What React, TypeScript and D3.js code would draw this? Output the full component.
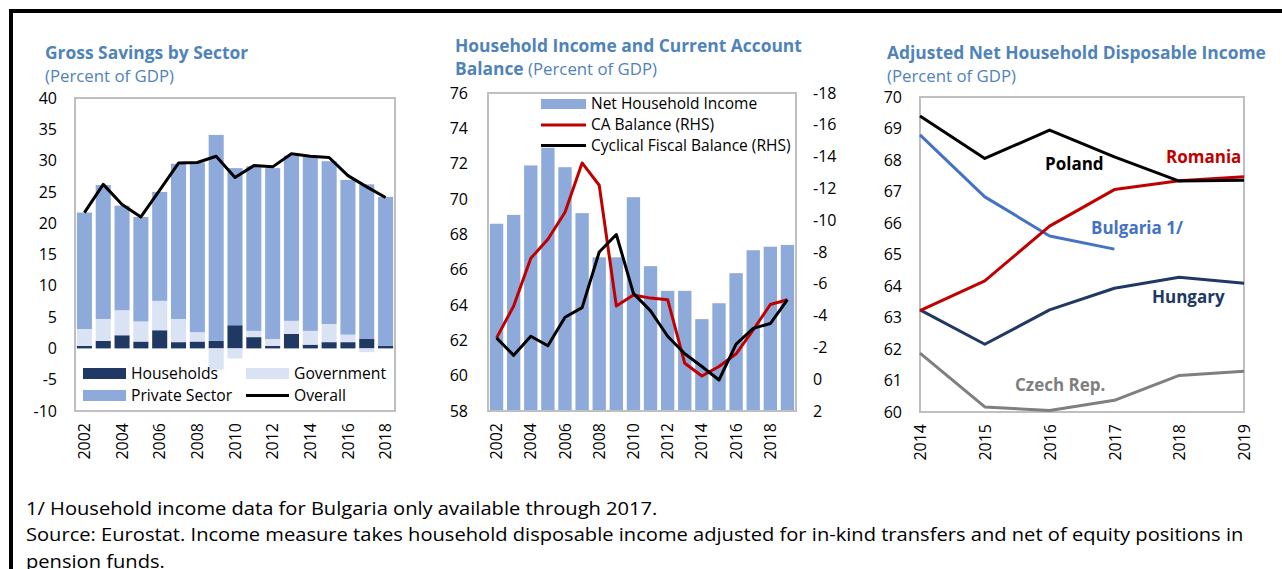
import * as d3 from "d3";
import { useEffect, useRef } from "react";

const FONT = "'Open Sans', sans-serif";
const TITLE_BLUE = "#4f83b9";
const FRAME_GREY = "#bfbfbf";

// Panel 1: Gross Savings by Sector (percent of GDP)
const savingsYears = [2002, 2003, 2004, 2005, 2006, 2007, 2008, 2009, 2010, 2011, 2012, 2013, 2014, 2015, 2016, 2017, 2018];
const households = [0.4, 1.2, 2.1, 1.1, 2.9, 1.0, 1.1, 1.2, 3.7, 1.8, 0.4, 2.3, 0.6, 1.0, 1.0, 1.5, 0.4];
const government = [2.7, 3.5, 4.0, 3.2, 4.7, 3.7, 1.5, -3.4, -1.6, 1.0, 1.1, 2.1, 2.2, 2.9, 1.2, -0.6, 0];
const privateSector = [18.6, 21.4, 16.7, 16.7, 17.4, 24.8, 27.1, 32.9, 25.1, 26.3, 27.3, 26.4, 27.8, 26.0, 24.7, 24.7, 23.8];
const overall = [21.7, 26.2, 23.0, 21.0, 25.3, 29.6, 29.7, 30.7, 27.3, 29.2, 29.0, 31.1, 30.7, 30.5, 27.6, 25.8, 24.1];
const savingsTicks = [-10, -5, 0, 5, 10, 15, 20, 25, 30, 35, 40];
const savingsLabelYears = [2002, 2004, 2006, 2008, 2010, 2012, 2014, 2016, 2018];

// Panel 2: Household income and current account balance
const incomeYears = [2002, 2003, 2004, 2005, 2006, 2007, 2008, 2009, 2010, 2011, 2012, 2013, 2014, 2015, 2016, 2017, 2018, 2019];
const netHouseholdIncome = [68.6, 69.1, 71.9, 72.9, 71.8, 69.2, 66.7, 66.7, 70.1, 66.2, 64.8, 64.8, 63.2, 64.1, 65.8, 67.1, 67.3, 67.4];
const caBalance = [-2.6, -4.6, -7.6, -8.8, -10.5, -13.6, -12.2, -4.6, -5.3, -5.1, -5.0, -1.0, -0.2, -0.8, -1.6, -3.1, -4.7, -5.0];
const cyclicalFiscal = [-2.6, -1.5, -2.7, -2.1, -3.9, -4.5, -8.0, -9.1, -5.4, -4.3, -2.7, -1.6, -0.8, 0.05, -2.2, -3.2, -3.5, -5.0];
const incomeLeftTicks = [58, 60, 62, 64, 66, 68, 70, 72, 74, 76];
const incomeRightTicks = [2, 0, -2, -4, -6, -8, -10, -12, -14, -16, -18];
const incomeLabelYears = [2002, 2004, 2006, 2008, 2010, 2012, 2014, 2016, 2018];

// Panel 3: Adjusted net household disposable income
const countryYears = [2014, 2015, 2016, 2017, 2018, 2019];
const poland = [69.4, 68.05, 68.95, 68.1, 67.33, 67.36];
const romania = [63.22, 64.16, 65.9, 67.06, 67.34, 67.47];
const bulgaria = [68.8, 66.83, 65.59, 65.17];
const hungary = [63.24, 62.15, 63.24, 63.93, 64.28, 64.09];
const czech = [61.87, 60.16, 60.05, 60.37, 61.16, 61.29];
const countryTicks = [60, 61, 62, 63, 64, 65, 66, 67, 68, 69, 70];

type Sel = d3.Selection<SVGGElement, unknown, null, undefined>;

const plainNum = (d: d3.NumberValue) => String(d);

function styleAxis(g: Sel) {
	g.select(".domain").remove();
	g.selectAll("line").remove();
	g.selectAll("text")
		.attr("font-family", FONT)
		.attr("font-size", 16)
		.attr("fill", "#000");
	g.attr("font-family", null).attr("font-size", null);
}

function rotateLabels(g: Sel) {
	g.selectAll("text")
		.attr("transform", "rotate(-90)")
		.attr("text-anchor", "end")
		.attr("x", -12)
		.attr("y", 0)
		.attr("dy", "0.35em");
}

export default function App() {
	const svgRef = useRef<SVGSVGElement>(null);

	useEffect(() => {
		if (!svgRef.current) return;
		const svg = d3.select(svgRef.current);
		svg.selectAll("*").remove();

		// outer frame
		svg.append("path")
			.attr("d", "M11,569V11H1282")
			.attr("fill", "none")
			.attr("stroke", "#000")
			.attr("stroke-width", 4);

		const title = (x: number, y: number, bold: string, normal: string) => {
			const t = svg.append("text")
				.attr("x", x)
				.attr("y", y)
				.attr("font-family", FONT)
				.attr("fill", TITLE_BLUE);
			if (bold) t.append("tspan").attr("font-weight", 700).attr("font-size", 17.4).text(bold);
			if (normal) t.append("tspan").attr("font-weight", 400).attr("font-size", 16.8).text(normal);
		};

		// ---------- Panel 1 ----------
		title(45, 59, "Gross Savings by Sector", "");
		title(45, 82, "", "(Percent of GDP)");

		const p1 = { left: 75, right: 395, top: 98, bottom: 411 };
		const x1 = d3.scaleBand()
			.domain(savingsYears.map(String))
			.range([p1.left, p1.right])
			.paddingInner(0.2)
			.paddingOuter(0.1);
		const y1 = d3.scaleLinear().domain([-10, 40]).range([p1.bottom, p1.top]);

		const rows = savingsYears.map((yr, i) => ({
			year: String(yr),
			households: households[i],
			government: government[i],
			private: privateSector[i],
		}));
		const stacked = d3.stack<any>()
			.keys(["households", "government", "private"])
			.offset(d3.stackOffsetDiverging)(rows);
		const sectorColor: Record<string, string> = {
			households: "#203864",
			government: "#dae3f3",
			private: "#8eaadb",
		};

		const g1 = svg.append("g");
		stacked.forEach((series) => {
			g1.append("g")
				.attr("fill", sectorColor[series.key])
				.selectAll("rect")
				.data(series)
				.join("rect")
				.attr("x", (d) => x1(d.data.year) ?? 0)
				.attr("width", x1.bandwidth())
				.attr("y", (d) => y1(Math.max(d[0], d[1])))
				.attr("height", (d) => Math.abs(y1(d[0]) - y1(d[1])));
		});

		const line1 = d3.line<number>()
			.x((_, i) => (x1(String(savingsYears[i])) ?? 0) + x1.bandwidth() / 2)
			.y((d) => y1(d));
		g1.append("path")
			.attr("d", line1(overall))
			.attr("fill", "none")
			.attr("stroke", "#000")
			.attr("stroke-width", 3)
			.attr("stroke-linejoin", "round");

		g1.append("rect")
			.attr("x", p1.left)
			.attr("y", p1.top)
			.attr("width", p1.right - p1.left)
			.attr("height", p1.bottom - p1.top)
			.attr("fill", "none")
			.attr("stroke", FRAME_GREY)
			.attr("stroke-width", 2);

		svg.append("g")
			.attr("transform", `translate(${p1.left},0)`)
			.call(d3.axisLeft(y1).tickValues(savingsTicks).tickFormat(plainNum).tickSize(0).tickPadding(18))
			.call(styleAxis);
		svg.append("g")
			.attr("transform", `translate(0,${p1.bottom})`)
			.call(d3.axisBottom(x1).tickValues(savingsLabelYears.map(String)).tickSize(0))
			.call(styleAxis)
			.call(rotateLabels);

		// legend 1
		const leg1 = svg.append("g")
			.attr("font-family", FONT)
			.attr("font-size", 15.7);
		const leg1Items = [
			{ label: "Households", kind: "households", x: 83, y: 373.5 },
			{ label: "Government", kind: "government", x: 246, y: 373.5 },
			{ label: "Private Sector", kind: "private", x: 83, y: 395.5 },
			{ label: "Overall", kind: "line", x: 246, y: 395.5 },
		];
		leg1Items.forEach((it) => {
			if (it.kind === "line") {
				leg1.append("line")
					.attr("x1", it.x).attr("x2", it.x + 43)
					.attr("y1", it.y).attr("y2", it.y)
					.attr("stroke", "#000").attr("stroke-width", 3);
			} else {
				leg1.append("rect")
					.attr("x", it.x).attr("y", it.y - 5.5)
					.attr("width", 43).attr("height", 11)
					.attr("fill", sectorColor[it.kind]);
			}
			leg1.append("text")
				.attr("x", it.x + 48).attr("y", it.y)
				.attr("dy", "0.35em")
				.text(it.label);
		});

		// ---------- Panel 2 ----------
		title(455, 52, "Household Income and Current Account", "");
		title(455, 75, "Balance", " (Percent of GDP)");

		const p2 = { left: 488, right: 796, top: 93, bottom: 411 };
		const x2 = d3.scaleBand()
			.domain(incomeYears.map(String))
			.range([p2.left, p2.right])
			.paddingInner(0.22)
			.paddingOuter(0.11);
		const y2L = d3.scaleLinear().domain([58, 76]).range([p2.bottom, p2.top]);
		const y2R = d3.scaleLinear().domain([2, -18]).range([p2.bottom, p2.top]);
		const cx2 = (i: number) => (x2(String(incomeYears[i])) ?? 0) + x2.bandwidth() / 2;

		const g2 = svg.append("g");
		g2.append("g")
			.attr("fill", "#8eaadb")
			.selectAll("rect")
			.data(netHouseholdIncome)
			.join("rect")
			.attr("x", (_, i) => x2(String(incomeYears[i])) ?? 0)
			.attr("width", x2.bandwidth())
			.attr("y", (d) => y2L(d))
			.attr("height", (d) => y2L(58) - y2L(d));

		const line2 = d3.line<number>().x((_, i) => cx2(i)).y((d) => y2R(d));
		g2.append("path")
			.attr("d", line2(caBalance))
			.attr("fill", "none")
			.attr("stroke", "#c00000")
			.attr("stroke-width", 3)
			.attr("stroke-linejoin", "round");
		g2.append("path")
			.attr("d", line2(cyclicalFiscal))
			.attr("fill", "none")
			.attr("stroke", "#000")
			.attr("stroke-width", 3)
			.attr("stroke-linejoin", "round");

		g2.append("rect")
			.attr("x", p2.left)
			.attr("y", p2.top)
			.attr("width", p2.right - p2.left)
			.attr("height", p2.bottom - p2.top)
			.attr("fill", "none")
			.attr("stroke", FRAME_GREY)
			.attr("stroke-width", 2);

		svg.append("g")
			.attr("transform", `translate(${p2.left},0)`)
			.call(d3.axisLeft(y2L).tickValues(incomeLeftTicks).tickFormat(plainNum).tickSize(0).tickPadding(20))
			.call(styleAxis);
		svg.append("g")
			.attr("transform", `translate(${p2.right},0)`)
			.call(d3.axisRight(y2R).tickValues(incomeRightTicks).tickFormat(plainNum).tickSize(0).tickPadding(17))
			.call(styleAxis);
		svg.append("g")
			.attr("transform", `translate(0,${p2.bottom})`)
			.call(d3.axisBottom(x2).tickValues(incomeLabelYears.map(String)).tickSize(0))
			.call(styleAxis)
			.call(rotateLabels);

		// legend 2
		const leg2 = svg.append("g")
			.attr("font-family", FONT)
			.attr("font-size", 15.5);
		const leg2Items = [
			{ label: "Net Household Income", kind: "bar", color: "#8eaadb", y: 104 },
			{ label: "CA Balance (RHS)", kind: "line", color: "#c00000", y: 125 },
			{ label: "Cyclical Fiscal Balance (RHS)", kind: "line", color: "#000", y: 145.5 },
		];
		leg2Items.forEach((it) => {
			if (it.kind === "bar") {
				leg2.append("rect")
					.attr("x", 541).attr("y", it.y - 5)
					.attr("width", 45).attr("height", 10)
					.attr("fill", it.color);
			} else {
				leg2.append("line")
					.attr("x1", 541).attr("x2", 586)
					.attr("y1", it.y).attr("y2", it.y)
					.attr("stroke", it.color).attr("stroke-width", 3);
			}
			leg2.append("text")
				.attr("x", 591).attr("y", it.y)
				.attr("dy", "0.35em")
				.text(it.label);
		});

		// ---------- Panel 3 ----------
		title(887, 59, "Adjusted Net Household Disposable Income", "");
		title(887, 82, "", "(Percent of GDP)");

		const p3 = { left: 920, right: 1244, top: 97, bottom: 412 };
		const x3 = d3.scalePoint()
			.domain(countryYears.map(String))
			.range([p3.left, p3.right]);
		const y3 = d3.scaleLinear().domain([60, 70]).range([p3.bottom, p3.top]);

		const g3 = svg.append("g");
		g3.append("rect")
			.attr("x", p3.left)
			.attr("y", p3.top)
			.attr("width", p3.right - p3.left)
			.attr("height", p3.bottom - p3.top)
			.attr("fill", "none")
			.attr("stroke", FRAME_GREY)
			.attr("stroke-width", 2);

		const line3 = d3.line<number>()
			.x((_, i) => x3(String(countryYears[i])) ?? 0)
			.y((d) => y3(d));
		const countries = [
			{ name: "Czech Rep.", values: czech, color: "#7f7f7f", lx: 1015, ly: 385 },
			{ name: "Hungary", values: hungary, color: "#203864", lx: 1152, ly: 297 },
			{ name: "Bulgaria 1/", values: bulgaria, color: "#4472c4", lx: 1091, ly: 228 },
			{ name: "Romania", values: romania, color: "#c00000", lx: 1166, ly: 157 },
			{ name: "Poland", values: poland, color: "#000", lx: 1045, ly: 164 },
		];
		countries.forEach((c) => {
			g3.append("path")
				.attr("d", line3(c.values))
				.attr("fill", "none")
				.attr("stroke", c.color)
				.attr("stroke-width", 3)
				.attr("stroke-linejoin", "round");
		});
		countries.forEach((c) => {
			g3.append("text")
				.attr("x", c.lx)
				.attr("y", c.ly)
				.attr("dy", "0.35em")
				.attr("font-family", FONT)
				.attr("font-size", 17)
				.attr("font-weight", 700)
				.attr("fill", c.color)
				.text(c.name);
		});

		svg.append("g")
			.attr("transform", `translate(${p3.left},0)`)
			.call(d3.axisLeft(y3).tickValues(countryTicks).tickFormat(plainNum).tickSize(0).tickPadding(18))
			.call(styleAxis);
		svg.append("g")
			.attr("transform", `translate(0,${p3.bottom})`)
			.call(d3.axisBottom(x3).tickSize(0))
			.call(styleAxis)
			.call(rotateLabels);

		// ---------- Footnotes ----------
		const notes = [
			"1/ Household income data for Bulgaria only available through 2017.",
			"Source: Eurostat. Income measure takes household disposable income adjusted for in-kind transfers and net of equity positions in",
			"pension funds.",
		];
		svg.append("g")
			.attr("font-family", FONT)
			.attr("font-size", 17.5)
			.attr("fill", "#000")
			.selectAll("text")
			.data(notes)
			.join("text")
			.attr("transform", (_, i) => `translate(26,${515 + i * 26.3}) scale(1.15,1)`)
			.text((d) => d);
	}, []);

	return (
		<svg
			ref={svgRef}
			width={1282}
			height={569}
			style={{ position: "absolute", left: 0, top: 0, background: "#fff" }}
		/>
	);
}
